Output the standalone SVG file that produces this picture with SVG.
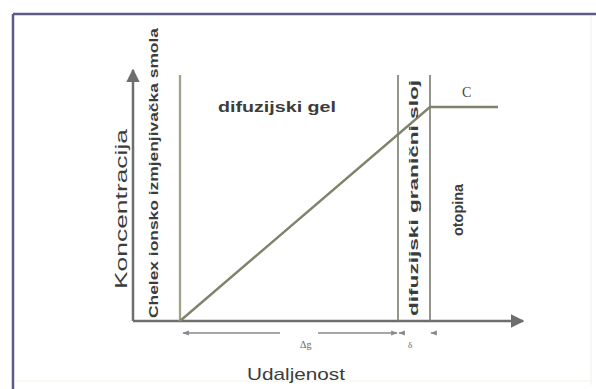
<svg xmlns="http://www.w3.org/2000/svg" width="596" height="389" viewBox="0 0 596 389">
<defs>
<style>
.t{font-family:"Liberation Sans",Arial,sans-serif;fill:#3c3c3c;}
.ax{stroke:#6e6e6e;stroke-width:2.5;fill:none;}
.ln{stroke:#7a7a70;stroke-width:1.6;fill:none;}
.cl{stroke:#7f836a;stroke-width:2.4;fill:none;}
.dim{stroke:#8a8a8a;stroke-width:1.3;fill:none;}
</style>
<marker id="ah" viewBox="0 0 10 10" refX="9" refY="5" markerWidth="5.5" markerHeight="5.5" orient="auto-start-reverse" markerUnits="strokeWidth">
<path d="M0,0 L10,5 L0,10 z" fill="#6e6e6e"/>
</marker>
<marker id="sa" viewBox="0 0 10 10" refX="9" refY="5" markerWidth="5" markerHeight="5" orient="auto-start-reverse" markerUnits="strokeWidth">
<path d="M0,1 L10,5 L0,9 z" fill="#8a8a8a"/>
</marker>
</defs>
<rect x="0" y="0" width="596" height="389" fill="#ffffff"/>
<g id="frame">
<line x1="13" y1="14" x2="596" y2="14" stroke="#5c5a88" stroke-width="2.5"/>
<line x1="13" y1="14" x2="13" y2="389" stroke="#5c5a88" stroke-width="2.5"/>
<line x1="591" y1="16" x2="591" y2="385" stroke="#f0f0ea" stroke-width="1"/>
<line x1="14" y1="381" x2="591" y2="381" stroke="#f4f4ea" stroke-width="1"/>
</g>
<g id="connectors">
<line class="ax" x1="133" y1="321" x2="133" y2="70" marker-end="url(#ah)"/>
<line class="ax" x1="133" y1="321" x2="523" y2="321" marker-end="url(#ah)"/>
<line x1="180" y1="75" x2="180" y2="321" stroke="#c4c8a8" stroke-width="2.5"/>
<line x1="180" y1="75" x2="180" y2="321" stroke="#7c7c70" stroke-width="1"/>
<line class="ln" x1="398" y1="75" x2="398" y2="321"/>
<line class="ln" x1="430" y1="75" x2="430" y2="321"/>
<polyline class="cl" points="180,321 430,107 498,107"/>
<line class="dim" x1="280" y1="333" x2="183" y2="333" marker-end="url(#sa)"/>
<line class="dim" x1="318" y1="333" x2="397" y2="333" marker-end="url(#sa)"/>
<line class="dim" x1="405" y1="333" x2="399" y2="333" marker-end="url(#sa)"/>
<line class="dim" x1="436" y1="333" x2="431" y2="333" marker-end="url(#sa)"/>
</g>
<g id="chelex">
<text class="t" transform="translate(158,318) rotate(-90)" font-size="12" font-weight="bold" textLength="290" lengthAdjust="spacingAndGlyphs">Chelex ionsko izmjenjivačka smola</text>
</g>
<g id="gel">
<text class="t" x="218" y="112" font-size="15" font-weight="bold" textLength="118" lengthAdjust="spacingAndGlyphs">difuzijski gel</text>
</g>
<g id="granicni">
<text class="t" transform="translate(418,316) rotate(-90)" font-size="12" font-weight="bold" textLength="236" lengthAdjust="spacingAndGlyphs">difuzijski granični sloj</text>
</g>
<g id="otopina">
<text class="t" transform="translate(463,236) rotate(-90)" font-size="14" font-weight="bold" textLength="52" lengthAdjust="spacingAndGlyphs">otopina</text>
</g>
<g id="labels">
<text x="462" y="97" font-family="'Liberation Serif',serif" font-size="14" fill="#444">C</text>
<text x="300" y="348" font-family="'Liberation Serif',serif" font-size="10" fill="#666">Δg</text>
<text x="408" y="348" font-family="'Liberation Serif',serif" font-size="9" fill="#666">δ</text>
<text class="t" transform="translate(127,289) rotate(-90)" font-size="17" fill="#4a4a4a" textLength="160" lengthAdjust="spacingAndGlyphs">Koncentracija</text>
<text class="t" x="247" y="380" font-size="17" textLength="98" lengthAdjust="spacingAndGlyphs">Udaljenost</text>
</g>
</svg>
